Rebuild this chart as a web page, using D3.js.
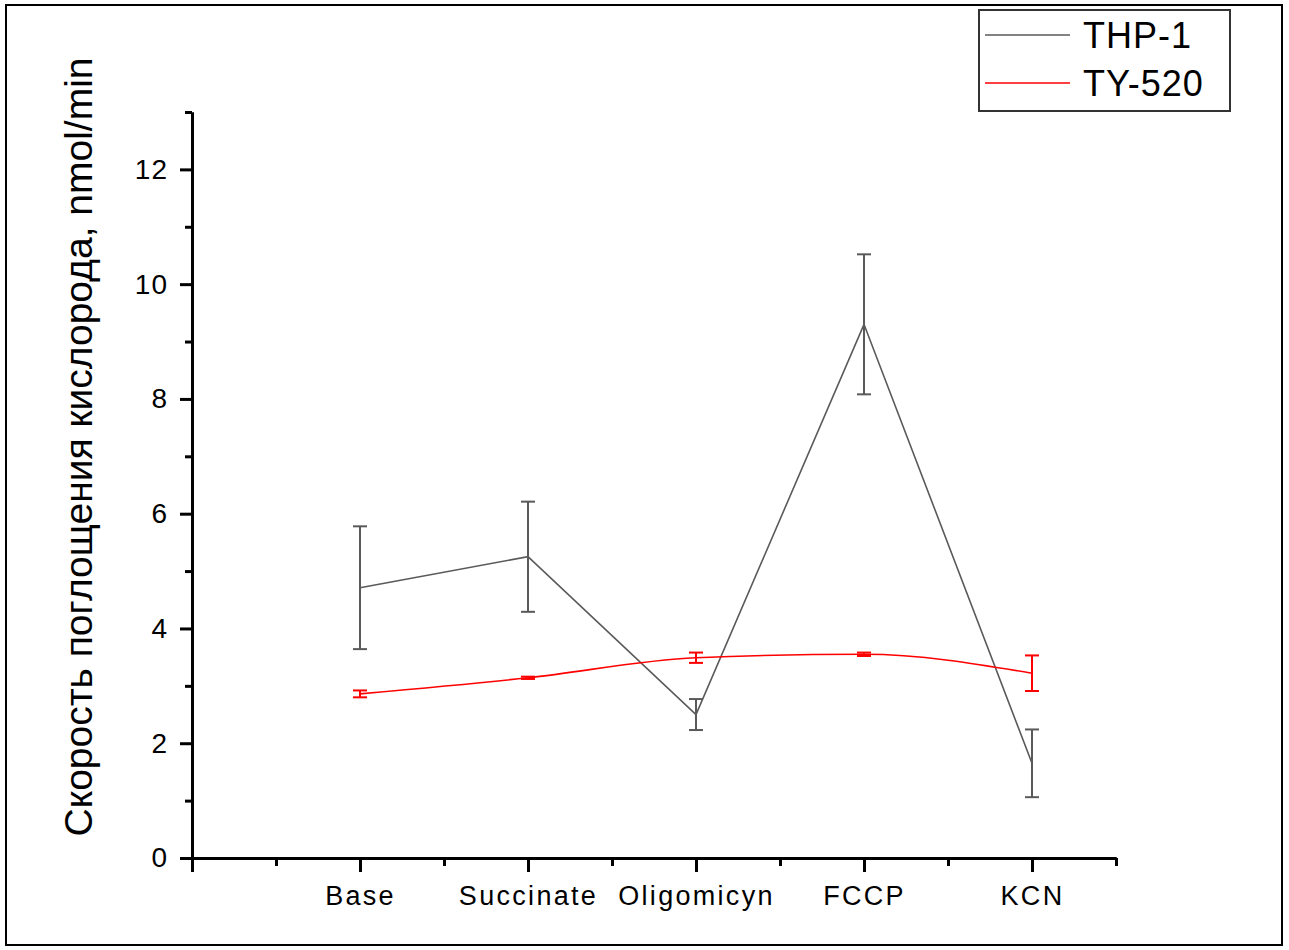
<!DOCTYPE html>
<html>
<head>
<meta charset="utf-8">
<style>
  body { margin: 0; background: #fff; }
  text { font-family: "Liberation Sans", Arial, sans-serif; }
</style>
</head>
<body>
<script src="https://cdn.jsdelivr.net/npm/d3@7"></script>
<script>
  const width = 1289, height = 950

  // data
  const categories = ['Base', 'Succinate', 'Oligomicyn', 'FCCP', 'KCN']
  const thp1 = [4.71, 5.25, 2.50, 9.30, 1.65]
  const thp1Err = [1.07, 0.96, 0.27, 1.22, 0.59]
  const ty520 = [2.86, 3.14, 3.49, 3.55, 3.22]
  const ty520Err = [0.06, 0.02, 0.09, 0.03, 0.31]
  const yMajor = [0, 2, 4, 6, 8, 10, 12]
  const yMinor = [1, 3, 5, 7, 9, 11, 13]
  const xMajor = [0, 1, 2, 3, 4, 5]
  const xMinor = [0.5, 1.5, 2.5, 3.5, 4.5, 5.5]

  const colors = {thp: '#5a5a5a', ty: '#ff0000'}

  const plot = {left: 192, right: 1116, top: 112, bottom: 858}

  const xScale = d3.scaleLinear().domain([0, 5.5]).range([plot.left, plot.right])
  const yScale = d3.scaleLinear().domain([0, 13]).range([plot.bottom, plot.top])

  const svg = d3.select('body').append('svg')
    .attr('width', width)
    .attr('height', height)

  // outer frame
  svg.append('rect')
    .attr('x', 6).attr('y', 5)
    .attr('width', 1276).attr('height', 940)
    .attr('fill', 'none')
    .attr('stroke', '#000')
    .attr('stroke-width', 2)

  // axes
  const styleAxis = (size, spacing) => g => {
    g.select('.domain').attr('stroke-width', 3).attr('stroke', '#000')
    g.selectAll('.tick line').attr('stroke-width', 3).attr('stroke', '#000')
    g.selectAll('.tick text')
      .style('font-size', size + 'px')
      .style('letter-spacing', spacing + 'px')
      .attr('fill', '#000')
  }

  svg.append('g')
    .attr('transform', `translate(${plot.left},0)`)
    .call(d3.axisLeft(yScale).tickValues(yMinor).tickSize(7).tickFormat('').tickSizeOuter(0))
    .call(styleAxis(28, 1))
  svg.append('g')
    .attr('transform', `translate(${plot.left},0)`)
    .call(d3.axisLeft(yScale).tickValues(yMajor).tickSize(12).tickPadding(12).tickSizeOuter(0))
    .call(styleAxis(28, 1))

  svg.append('g')
    .attr('transform', `translate(0,${plot.bottom})`)
    .call(d3.axisBottom(xScale).tickValues(xMinor).tickSize(8).tickFormat('').tickSizeOuter(0))
    .call(styleAxis(27, 2.3))
  svg.append('g')
    .attr('transform', `translate(0,${plot.bottom})`)
    .call(d3.axisBottom(xScale).tickValues(xMajor).tickSize(14).tickPadding(14)
      .tickFormat(d => d === 0 ? '' : categories[d - 1]).tickSizeOuter(0))
    .call(styleAxis(27, 2.3))

  // y label
  svg.append('text')
    .attr('transform', `translate(92, ${447}) rotate(-90)`)
    .style('text-anchor', 'middle')
    .style('font-size', '39px')
    .text('Скорость поглощения кислорода, nmol/min')

  // series
  const series = [
    {name: 'THP-1', values: thp1, err: thp1Err, color: colors.thp, curve: d3.curveLinear},
    {name: 'TY-520', values: ty520, err: ty520Err, color: colors.ty, curve: d3.curveMonotoneX}
  ]

  series.forEach(s => {
    const pts = s.values.map((v, i) => ({x: i + 1, y: v, e: s.err[i]}))
    const g = svg.append('g')

    g.append('path')
      .datum(pts)
      .attr('fill', 'none')
      .attr('stroke', s.color)
      .attr('stroke-width', 1.6)
      .attr('d', d3.line().x(d => xScale(d.x)).y(d => yScale(d.y)).curve(s.curve))

    const bars = g.selectAll('.err').data(pts).enter().append('g')
    bars.append('line')
      .attr('x1', d => xScale(d.x)).attr('x2', d => xScale(d.x))
      .attr('y1', d => yScale(d.y - d.e)).attr('y2', d => yScale(d.y + d.e))
      .attr('stroke', s.color).attr('stroke-width', 2)
    ;[-1, 1].forEach(sign => {
      bars.append('line')
        .attr('x1', d => xScale(d.x) - 7).attr('x2', d => xScale(d.x) + 7)
        .attr('y1', d => yScale(d.y + sign * d.e)).attr('y2', d => yScale(d.y + sign * d.e))
        .attr('stroke', s.color).attr('stroke-width', 2)
    })
  })

  // legend
  const legend = svg.append('g')
  legend.append('rect')
    .attr('x', 979).attr('y', 10)
    .attr('width', 251).attr('height', 101)
    .attr('fill', '#fff')
    .attr('stroke', '#333')
    .attr('stroke-width', 2)
  series.forEach((s, i) => {
    const y = 35 + i * 48
    legend.append('line')
      .attr('x1', 985).attr('x2', 1070)
      .attr('y1', y).attr('y2', y)
      .attr('stroke', s.color).attr('stroke-width', 1.6)
    legend.append('text')
      .attr('x', 1083).attr('y', y + 13)
      .style('font-size', '36px')
      .style('letter-spacing', '1px')
      .text(s.name)
  })
</script>
</body>
</html>
